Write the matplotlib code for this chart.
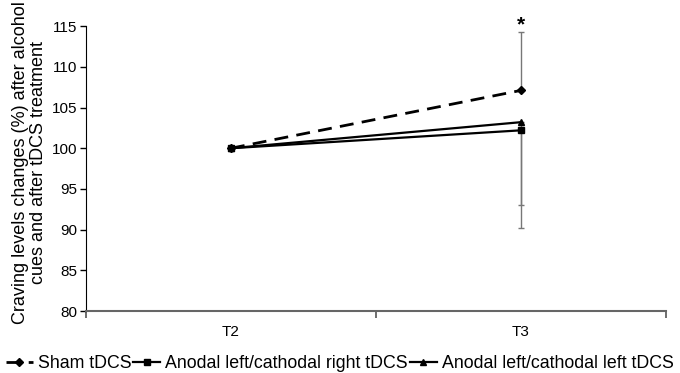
import matplotlib
matplotlib.use("Agg")
import matplotlib.pyplot as plt
import numpy as np

plt.rcParams['font.family'] = ['Liberation Sans', 'DejaVu Sans']

# datos
momentos = ['T2', 'T3']
sham = [100.0, 107.1]
anodal_der = [100.0, 102.2]
anodal_izq = [100.0, 103.2]
sham_err_sup = [0.0, 7.2]      # barra de error hacia arriba (sham)
der_err_inf = [0.0, 12.0]      # barra hacia abajo
izq_err_inf = [0.0, 10.2]
yticks = [80, 85, 90, 95, 100, 105, 110, 115]

fig = plt.figure(figsize=(6.8, 3.73), dpi=100)
ax = fig.add_axes([0.1265, 0.166, 0.8525, 0.764])

x = np.arange(len(momentos))

# barras de error (grises)
ax.errorbar(x, sham, yerr=[np.zeros(2), sham_err_sup], fmt='none', ecolor='#777777',
            elinewidth=1, capsize=2.5, capthick=1, zorder=1)
ax.errorbar(x, anodal_der, yerr=[der_err_inf, np.zeros(2)], fmt='none', ecolor='#777777',
            elinewidth=1, capsize=2.5, capthick=1, zorder=1)
ax.errorbar(x, anodal_izq, yerr=[izq_err_inf, np.zeros(2)], fmt='none', ecolor='#777777',
            elinewidth=1, capsize=2.5, capthick=1, zorder=1)

ax.plot(x, sham, color='black', linestyle=(0, (5, 3)), linewidth=2, marker='D',
        markersize=4, label='Sham tDCS', zorder=3)
ax.plot(x, anodal_der, color='black', linewidth=1.6, marker='s', markersize=5,
        label='Anodal left/cathodal right tDCS', zorder=3)
ax.plot(x, anodal_izq, color='black', linewidth=1.6, marker='^', markersize=5,
        label='Anodal left/cathodal left tDCS', zorder=3)

ax.text(1, sham[1] + sham_err_sup[1] + 0.8, '*', ha='center', va='center',
        fontsize=15, fontweight='bold', clip_on=False)

ax.set_xlim(-0.5, 1.5)
ax.set_ylim(80, 115)
ax.set_yticks(yticks)
ax.set_xticks(x)
ax.set_xticklabels(momentos)
ax.set_xticks([-0.5, 0.5, 1.5], minor=True)
ax.tick_params(axis='x', which='major', length=0, pad=10, labelsize=11)
ax.tick_params(axis='x', which='minor', length=5, width=1.2, color='#555555', direction='out')
ax.tick_params(axis='y', length=4, width=1, direction='out', labelsize=11, pad=2)

for s in ['top', 'right']:
    ax.spines[s].set_visible(False)
ax.spines['left'].set_color('black')
ax.spines['bottom'].set_color('#666666')
ax.spines['bottom'].set_linewidth(1.5)

fig.text(0.043, 0.565, 'Craving levels changes (%) after alcohol\ncues and after tDCS treatment',
         rotation=90, ha='center', va='center', fontsize=13, linespacing=1.1)

ax.legend(loc='center', bbox_to_anchor=(0.438, -0.183),
          ncol=3, frameon=False, handlelength=1.5, handletextpad=0.3, columnspacing=0.1,
          fontsize=12.8, borderaxespad=0)

fig.savefig('out.png', dpi=100)
